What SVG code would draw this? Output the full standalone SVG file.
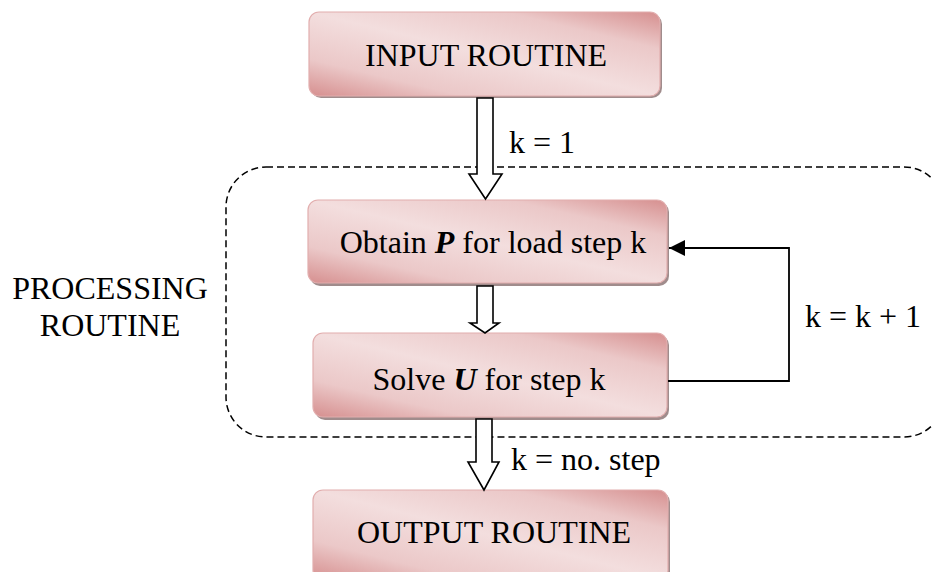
<svg xmlns="http://www.w3.org/2000/svg" width="932" height="572" viewBox="0 0 932 572">
  <style>
    text { font-family: "Liberation Serif", "Times New Roman", serif; font-size: 32px; fill: #000; }
    .mid { text-anchor: middle; }
    .box { fill: url(#boxFill); stroke: #e2aeae; stroke-width: 1.2; }
    .shadow { fill: #8f7878; opacity: 0.85; }
    .block { fill: #fff; stroke: #000; stroke-width: 1.6; stroke-linejoin: miter; }
    .line { fill: none; stroke: #000; stroke-width: 1.8; }
    .group { fill: none; stroke: #000; stroke-width: 1.5; stroke-dasharray: 7 4; }
    .em { font-weight: bold; font-style: italic; }
  </style>
  <defs>
    <linearGradient id="boxFill" x1="0" y1="1" x2="1" y2="0">
      <stop offset="0" stop-color="#d68f8f"/>
      <stop offset="0.22" stop-color="#ebc8c8"/>
      <stop offset="0.5" stop-color="#f3dede"/>
      <stop offset="0.78" stop-color="#ebc8c8"/>
      <stop offset="1" stop-color="#d68f8f"/>
    </linearGradient>
    <marker id="head" markerUnits="userSpaceOnUse" markerWidth="18" markerHeight="16" refX="16" refY="8" orient="auto">
      <path d="M0,0 L16,8 L0,16 Z" fill="#000"/>
    </marker>
  </defs>

  <!-- processing routine boundary -->
  <rect class="group" x="226" y="167" width="718" height="270" rx="40" ry="40"/>
  <text class="mid" x="110" y="299">PROCESSING</text>
  <text class="mid" x="110" y="336">ROUTINE</text>

  <g id="input">
    <rect class="shadow" x="311" y="14" width="351" height="84" rx="10"/>
    <rect class="box" x="309" y="12" width="351" height="84" rx="10"/>
    <text class="mid" x="486" y="66">INPUT ROUTINE</text>
  </g>

  <g id="obtain">
    <rect class="shadow" x="310" y="202" width="359" height="84" rx="10"/>
    <rect class="box" x="308" y="200" width="359" height="83" rx="10"/>
    <text class="mid" x="493" y="253">Obtain <tspan class="em">P</tspan> for load step k</text>
  </g>

  <g id="solve">
    <rect class="shadow" x="315" y="335" width="354" height="85" rx="10"/>
    <rect class="box" x="313" y="333" width="354" height="84" rx="10"/>
    <text class="mid" x="489" y="390">Solve <tspan class="em">U</tspan> for step k</text>
  </g>

  <g id="output">
    <rect class="shadow" x="315" y="492" width="355" height="90" rx="10"/>
    <rect class="box" x="313" y="490" width="355" height="90" rx="10"/>
    <text class="mid" x="494" y="543">OUTPUT ROUTINE</text>
  </g>

  <g id="connectors">
    <polygon class="block" points="477,98 493,98 493,174 502,174 485.5,199 469,174 477,174"/>
    <polygon class="block" points="477,286 493,286 493,323 499,323 485,333 470,323 477,323"/>
    <polygon class="block" points="476,419 492,419 492,462 499,462 484,490 468,462 476,462"/>
    <path class="line" d="M668,381 H789 V248 H669" marker-end="url(#head)"/>
  </g>

  <g id="labels">
    <text x="509" y="153">k = 1</text>
    <text x="805" y="327">k = k + 1</text>
    <text x="511" y="470">k = no. step</text>
  </g>
</svg>
